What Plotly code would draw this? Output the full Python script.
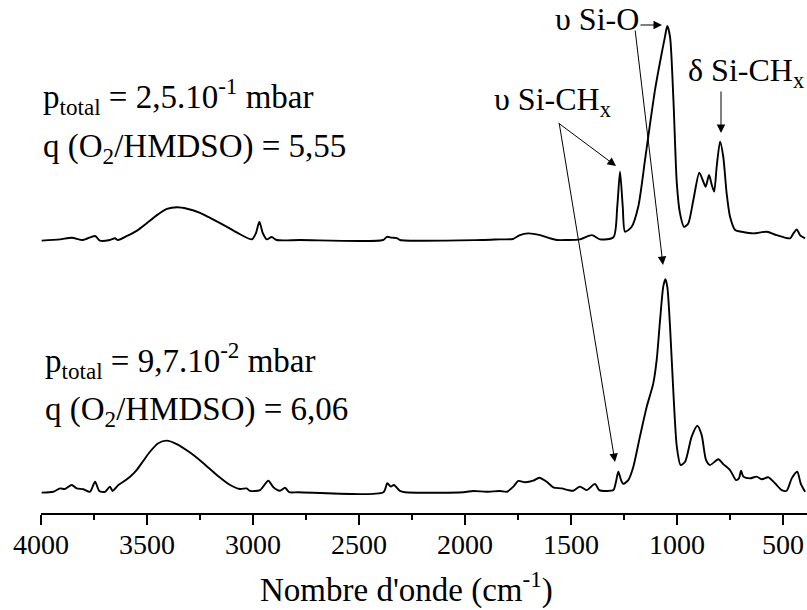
import plotly.graph_objects as go

# ---- data ----
# upper spectrum: p_total = 2,5.10^-1 mbar, q = 5,55
wn_top = [3997, 3910, 3855, 3802, 3745, 3722, 3675, 3651, 3637, 3594, 3547, 3500, 3453, 3406, 3358,
          3311, 3250, 3189, 3123, 3061, 3005, 2986, 2970, 2954, 2935, 2912, 2888, 2778, 2387, 2368,
          2346, 2322, 2307, 1921, 1835, 1774, 1741, 1703, 1646, 1599, 1567, 1520, 1458, 1402, 1363,
          1300, 1282, 1269, 1256, 1245, 1214, 1183, 1151, 1127, 1104, 1080, 1057, 1046, 1033, 1017,
          1001, 986, 967, 947, 923, 895, 876, 865, 849, 836, 825, 813, 797, 782, 766,
          750, 726, 695, 640, 577, 530, 467, 451, 435, 420, 396]
abs_top = [-0.003, 0.003, 0.011, 0.0, 0.019, -0.003, 0.0, 0.008, 0.0, 0.019, 0.044, 0.080, 0.117, 0.146, 0.154,
           0.147, 0.128, 0.097, 0.062, 0.027, 0.003, 0.033, 0.086, 0.033, 0.003, 0.014, 0.0, 0.0, 0.0, 0.015,
           0.011, 0.009, 0.0, 0.0, 0.003, 0.005, 0.023, 0.031, 0.023, 0.008, 0.0, 0.0, 0.003, 0.023, 0.003,
           0.013, 0.156, 0.321, 0.156, 0.039, 0.062, 0.156, 0.376, 0.548, 0.704, 0.837, 0.954, 1.005, 0.954, 0.657,
           0.266, 0.125, 0.062, 0.078, 0.188, 0.316, 0.274, 0.250, 0.305, 0.258, 0.227, 0.344, 0.462, 0.391, 0.219,
           0.109, 0.047, 0.039, 0.031, 0.039, 0.023, 0.008, 0.031, 0.050, 0.023, 0.008]

# lower spectrum: p_total = 9,7.10^-2 mbar, q = 6,06
wn_bot = [3997, 3942, 3910, 3887, 3855, 3832, 3800, 3769, 3745, 3725, 3698, 3675, 3662, 3635, 3612,
          3580, 3549, 3517, 3486, 3447, 3407, 3360, 3297, 3234, 3171, 3108, 3061, 3030, 3014, 2967,
          2928, 2904, 2873, 2849, 2829, 2786, 2385, 2367, 2350, 2335, 2307, 2283, 2008, 1961, 1898,
          1835, 1803, 1772, 1749, 1717, 1678, 1650, 1615, 1584, 1544, 1513, 1489, 1458, 1426, 1387,
          1367, 1332, 1300, 1288, 1277, 1264, 1253, 1230, 1206, 1175, 1143, 1112, 1096, 1080, 1065,
          1055, 1046, 1033, 1017, 1001, 983, 962, 931, 904, 884, 863, 844, 805, 782, 750,
          722, 708, 698, 687, 656, 624, 601, 569, 538, 506, 483, 459, 433, 417, 396]
abs_bot = [-0.003, 0.001, 0.017, 0.014, 0.033, 0.017, 0.013, 0.001, 0.048, 0.005, 0.001, 0.025, 0.005, 0.033, 0.048,
           0.072, 0.103, 0.147, 0.189, 0.229, 0.241, 0.225, 0.185, 0.135, 0.080, 0.033, 0.014, 0.017, 0.005, 0.009,
           0.053, 0.022, 0.006, 0.020, -0.001, -0.001, -0.001, 0.041, 0.025, 0.033, 0.005, -0.001, -0.001, 0.005, 0.001,
           0.005, 0.001, 0.025, 0.052, 0.046, 0.053, 0.067, 0.048, 0.022, 0.017, 0.009, 0.006, 0.025, 0.009, 0.038,
           0.009, 0.005, 0.009, 0.048, 0.095, 0.056, 0.038, 0.056, 0.119, 0.260, 0.400, 0.510, 0.620, 0.808, 0.964,
           0.999, 0.964, 0.776, 0.463, 0.213, 0.127, 0.142, 0.260, 0.311, 0.268, 0.150, 0.127, 0.154, 0.131, 0.103,
           0.056, 0.064, 0.100, 0.072, 0.064, 0.072, 0.060, 0.069, 0.041, 0.009, 0.006, 0.064, 0.095, 0.041, 0.001]

top_offset = 1.183
tick_vals = [4000, 3500, 3000, 2500, 2000, 1500, 1000, 500]
tick_text = ["4000", "3500", "3000", "2500", "2000", "1500", "1000", "500"]

# ---- layout geometry (page pixels; body margin removed below) ----
W, H = 807, 610
L, R, T, B = 41, 0, 0, 97
PW, PH = W - L - R, H - T - B

def px(x):  # page pixel -> paper x
    return (x - L) / PW

def py(y):  # page pixel -> paper y
    return (H - B - y) / PH

FONT = "Liberation Serif"

fig = go.Figure()
fig.add_trace(go.Scatter(x=wn_top, y=[a + top_offset for a in abs_top], mode="lines",
                         line=dict(color="black", width=1.9, shape="spline", smoothing=0.7),
                         showlegend=False, hoverinfo="skip"))
fig.add_trace(go.Scatter(x=wn_bot, y=abs_bot, mode="lines",
                         line=dict(color="black", width=1.9, shape="spline", smoothing=0.7),
                         showlegend=False, hoverinfo="skip"))

annotations = []

def text(x, y, s, size=33, anchor="left"):
    annotations.append(dict(x=px(x), y=py(y), xref="paper", yref="paper", text=s,
                            showarrow=False, xanchor=anchor, yanchor="middle",
                            font=dict(family=FONT, size=size, color="black")))

def arrow(x1, y1, x2, y2):
    annotations.append(dict(x=px(x2), y=py(y2), xref="paper", yref="paper", text="",
                            showarrow=True, ax=x1 - x2, ay=y1 - y2, axref="pixel", ayref="pixel",
                            arrowhead=2, arrowsize=1.7, arrowwidth=1, arrowcolor="black",
                            standoff=0, startstandoff=0))

text(41, 96, "p<sub>total</sub> = 2,5.10<sup>-1</sup> mbar")
text(41, 148, "q (O<sub>2</sub>/HMDSO) = 5,55")
text(43, 360, "p<sub>total</sub> = 9,7.10<sup>-2</sup> mbar")
text(43, 411, "q (O<sub>2</sub>/HMDSO) = 6,06")
text(553, 19, "υ Si-O", size=32)
text(492, 101, "υ Si-CH<sub>x</sub>", size=32)
text(686, 72, "δ Si-CH<sub>x</sub>", size=32)
text(406, 587, "Nombre d'onde (cm<sup>-1</sup>)", anchor="center")

arrow(639, 25, 662, 25)
arrow(635, 29, 663, 265)
arrow(557, 122, 616, 166)
arrow(559, 122, 615, 462)
arrow(721, 90, 721, 133)

fig.update_layout(
    width=W, height=H,
    margin=dict(l=L, r=R, t=T, b=B, pad=0),
    paper_bgcolor="white", plot_bgcolor="white",
    font=dict(family=FONT, color="black"),
    annotations=annotations,
    hovermode=False,
    xaxis=dict(range=[4000, 387], showgrid=False, zeroline=False,
               showline=True, linecolor="black", linewidth=1.5,
               ticks="outside", ticklen=10, tickwidth=1.5, tickcolor="black",
               tickvals=tick_vals, ticktext=tick_text, ticklabelstandoff=-4,
               tickfont=dict(family=FONT, size=28, color="black"),
               minor=dict(ticks="outside", ticklen=5, tickwidth=1.5, tickcolor="black", dtick=250,
                          tick0=0, showgrid=False)),
    yaxis=dict(range=[-0.0986, 492 / 213], visible=False, showgrid=False, zeroline=False),
)

fig.write_html("out.html", config={"displayModeBar": False, "staticPlot": True},
               post_script="document.body.style.margin='0';document.body.style.overflow='hidden';")
